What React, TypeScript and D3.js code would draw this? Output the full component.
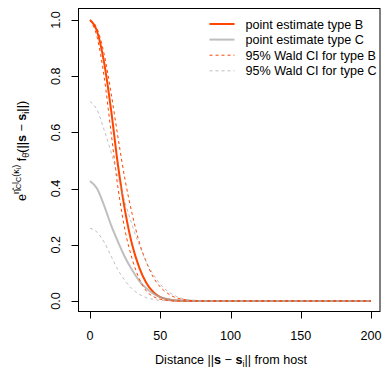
import React from "react";
import * as d3 from "d3";

const dist = [0, 5, 10, 15, 20, 25, 30, 35, 40, 45, 50, 55, 60, 65, 70, 80, 90, 200];

const estB = [1.0, 0.96, 0.85, 0.68, 0.48, 0.32, 0.2, 0.12, 0.065, 0.032, 0.014, 0.006, 0.002, 0.001, 0, 0, 0, 0];
const estC = [0.427, 0.4, 0.34, 0.27, 0.21, 0.155, 0.11, 0.072, 0.045, 0.026, 0.014, 0.007, 0.003, 0.002, 0.001, 0, 0, 0];
const upB = [1.0, 0.97, 0.88, 0.74, 0.58, 0.43, 0.31, 0.21, 0.14, 0.085, 0.05, 0.028, 0.014, 0.007, 0.003, 0, 0, 0];
const loB = [1.0, 0.94, 0.8, 0.6, 0.4, 0.25, 0.15, 0.08, 0.036, 0.016, 0.006, 0.002, 0, 0, 0, 0, 0, 0];
const upC = [0.71, 0.68, 0.61, 0.53, 0.44, 0.35, 0.27, 0.2, 0.14, 0.095, 0.06, 0.036, 0.02, 0.01, 0.005, 0.001, 0, 0];
const loC = [0.259, 0.245, 0.21, 0.16, 0.11, 0.072, 0.043, 0.024, 0.012, 0.006, 0.002, 0.001, 0, 0, 0, 0, 0, 0];

const xTicks = [0, 50, 100, 150, 200];
const yTicks = [0, 0.2, 0.4, 0.6, 0.8, 1.0];

const legendItems = [
  { label: "point estimate type B", color: "#FF4500", width: 2, dash: null },
  { label: "point estimate type C", color: "#BEBEBE", width: 2, dash: null },
  { label: "95% Wald CI for type B", color: "#FF4500", width: 1, dash: "3,3" },
  { label: "95% Wald CI for type C", color: "#BEBEBE", width: 1, dash: "3,3" },
];

const RED = "#FF4500";
const GRAY = "#AAAAAA";
const font = "'Liberation Sans', Arial, sans-serif";
const fs = 12.6;

export default function App() {
  const width = 382;
  const height = 370;
  const box = { left: 78.5, top: 8.5, right: 380, bottom: 311.5 };

  const x = d3.scaleLinear().domain([0, 200]).range([90, 371]);
  const y = d3.scaleLinear().domain([0, 1]).range([301, 20]);

  const line = (vals: number[]) =>
    d3
      .line<number>()
      .x((d, i) => x(dist[i]))
      .y((d) => y(d))
      .curve(d3.curveMonotoneX)(vals) as string;

  return (
    <svg
      width={width}
      height={height}
      style={{ position: "absolute", left: 0, top: 0, background: "#fff" }}
      fontFamily={font}
      fontSize={fs}
    >
      {/* curves */}
      <path d={line(estB)} fill="none" stroke={RED} strokeWidth={2} />
      <path d={line(estC)} fill="none" stroke={GRAY} strokeWidth={2} strokeOpacity={0.75} />
      <path d={line(upB)} fill="none" stroke={RED} strokeWidth={1} strokeDasharray="3,3" />
      <path d={line(loB)} fill="none" stroke={RED} strokeWidth={1} strokeDasharray="3,3" />
      <path d={line(upC)} fill="none" stroke={GRAY} strokeWidth={1} strokeDasharray="3,3" strokeOpacity={0.75} />
      <path d={line(loC)} fill="none" stroke={GRAY} strokeWidth={1} strokeDasharray="3,3" strokeOpacity={0.75} />

      {/* box */}
      <rect
        x={box.left}
        y={box.top}
        width={box.right - box.left}
        height={box.bottom - box.top}
        fill="none"
        stroke="#000"
        strokeWidth={1}
      />

      {/* x axis */}
      {xTicks.map((t) => (
        <g key={"x" + t}>
          <line x1={Math.round(x(t)) + 0.5} x2={Math.round(x(t)) + 0.5} y1={box.bottom} y2={box.bottom + 7} stroke="#000" />
          <text x={x(t)} y={340} textAnchor="middle">
            {t}
          </text>
        </g>
      ))}

      {/* y axis */}
      {yTicks.map((t) => (
        <g key={"y" + t}>
          <line x1={box.left - 7} x2={box.left} y1={Math.round(y(t)) + 0.5} y2={Math.round(y(t)) + 0.5} stroke="#000" />
          <text transform={`translate(60,${y(t)}) rotate(-90)`} textAnchor="middle">
            {t.toFixed(1)}
          </text>
        </g>
      ))}

      {/* x label */}
      <text x={231} y={364} textAnchor="middle">
        Distance ||<tspan fontWeight="bold">s</tspan> − <tspan fontWeight="bold">s</tspan>
        <tspan fontSize={9} dy={3}>i</tspan>
        <tspan dy={-3}>|| from host</tspan>
      </text>

      {/* y label */}
      <text transform="translate(26,201) rotate(-90)" textAnchor="start">
        e
        <tspan fontSize={9} dy={-7}>η̂</tspan>
        <tspan fontSize={7} dy={2}>C</tspan>
        <tspan fontSize={9} dy={-2}>l</tspan>
        <tspan fontSize={7} dy={2}>C</tspan>
        <tspan fontSize={9} dy={-2}>(κ</tspan>
        <tspan fontSize={7} dy={2}>i</tspan>
        <tspan fontSize={9} dy={-2}>)</tspan>
        <tspan dy={7}> f</tspan>
        <tspan fontSize={9} dy={3}>θ̂</tspan>
        <tspan dy={-3}>(||</tspan>
        <tspan fontWeight="bold">s</tspan>
        <tspan> − </tspan>
        <tspan fontWeight="bold">s</tspan>
        <tspan fontSize={9} dy={3}>i</tspan>
        <tspan dy={-3}>||)</tspan>
      </text>

      {/* legend */}
      {legendItems.map((it, i) => {
        const ly = 24 + i * 15.6;
        return (
          <g key={it.label}>
            <line
              x1={209.5}
              x2={234.5}
              y1={ly}
              y2={ly}
              stroke={it.color}
              strokeWidth={it.width}
              strokeDasharray={it.dash ?? undefined}
            />
            <text x={245.5} y={ly + 4.5}>
              {it.label}
            </text>
          </g>
        );
      })}
    </svg>
  );
}
